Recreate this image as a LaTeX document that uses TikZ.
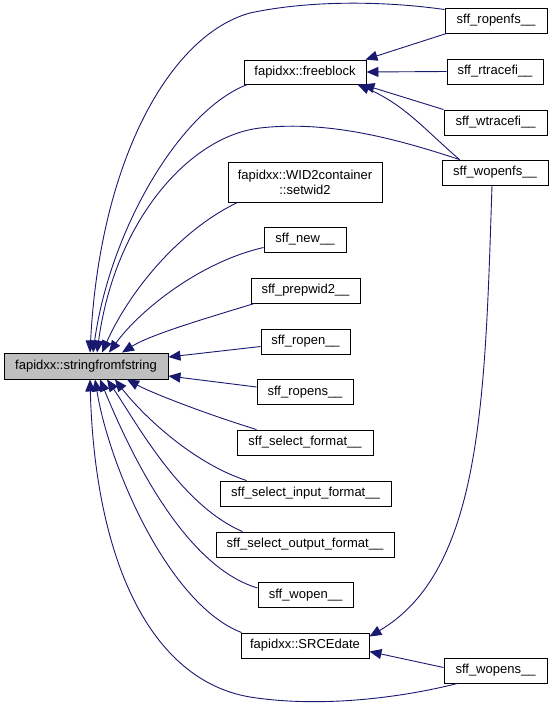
\documentclass[tikz,border=0pt]{standalone}
\usepackage{fontspec}
\setmainfont{Liberation Sans}
\usetikzlibrary{arrows.meta}
\definecolor{edgeblue}{HTML}{191970}
\definecolor{mainfill}{HTML}{BFBFBF}
\begin{document}
\begin{tikzpicture}[x=1pt,y=-1pt,
  box/.style={draw=black,line width=0.9pt,fill=white,minimum height=25pt,inner sep=0pt,font=\fontsize{13}{14.8}\selectfont,align=center},
  edge/.style={draw=edgeblue,line width=0.9pt,-{Triangle[length=12pt,width=10pt]}}]
\useasboundingbox (0,0) rectangle (555,707);
\node[box,fill=mainfill,minimum width=164pt,minimum height=26pt] (sfs) at (86,366) {fapidxx::stringfromfstring};
\node[box,minimum width=122pt,minimum height=24pt] (freeblock) at (305,72) {fapidxx::freeblock};
\node[box,minimum width=154pt,minimum height=40pt] (setwid2) at (305,182) {fapidxx::WID2container\\::setwid2};
\node[box,minimum width=82pt] (new) at (305,239.5) {sff\_new\_\_};
\node[box,minimum width=109pt] (prepwid2) at (305.5,290.5) {sff\_prepwid2\_\_};
\node[box,minimum width=89pt] (ropen) at (305.5,341.5) {sff\_ropen\_\_};
\node[box,minimum width=96pt] (ropens) at (305,392) {sff\_ropens\_\_};
\node[box,minimum width=136pt] (selfmt) at (305,442.5) {sff\_select\_format\_\_};
\node[box,minimum width=171pt] (selin) at (305.5,493.5) {sff\_select\_input\_format\_\_};
\node[box,minimum width=178pt] (selout) at (305,544.5) {sff\_select\_output\_format\_\_};
\node[box,minimum width=95pt] (wopen) at (305.5,595) {sff\_wopen\_\_};
\node[box,minimum width=128pt] (srce) at (305,645.5) {fapidxx::SRCEdate};
\node[box,minimum width=102pt] (ropenfs) at (496,20.5) {sff\_ropenfs\_\_};
\node[box,minimum width=96pt] (rtracefi) at (495,71.5) {sff\_rtracefi\_\_};
\node[box,minimum width=103pt] (wtracefi) at (495.5,122.5) {sff\_wtracefi\_\_};
\node[box,minimum width=106pt] (wopenfs) at (495,172.5) {sff\_wopenfs\_\_};
\node[box,minimum width=103pt] (wopens) at (495.5,670.5) {sff\_wopens\_\_};
% edges to freeblock
\draw[edge] ([xshift=2pt]ropenfs.south west) -- ([xshift=-1pt]freeblock.north east);
\draw[edge] (rtracefi.west) -- (freeblock.east);
\draw[edge] (wtracefi.north west) -- ([xshift=-4pt]freeblock.south east);
\draw[edge] ([xshift=18pt]wopenfs.north west) .. controls (425,130) and (405,105) .. ([xshift=-9pt]freeblock.south east);
% edges to SRCEdate
\draw[edge] ([xshift=-3pt]wopenfs.south) .. controls (485,400) and (482,570) .. ([yshift=-4pt]srce.north east);
\draw[edge] ([yshift=3pt]wopens.west) -- ([yshift=-6pt]srce.east);
% edges to stringfromfstring
\draw[edge] ([yshift=-2pt]ropenfs.north west) .. controls (400,3) and (320,-2) .. (250,13) .. controls (170,35) and (100,160) .. ([xshift=4pt]sfs.north);
\draw[edge] ([xshift=4pt]freeblock.south west) .. controls (180,110) and (110,230) .. ([xshift=7pt]sfs.north);
\draw[edge] ([xshift=18pt]wopenfs.north west) .. controls (400,140) and (330,120) .. (260,128) .. controls (190,136) and (115,220) .. ([xshift=11pt]sfs.north);
\draw[edge] ([xshift=10pt]setwid2.south west) .. controls (180,230) and (130,290) .. ([xshift=16pt]sfs.north);
\draw[edge] ([yshift=-8pt]new.west) .. controls (200,262) and (140,310) .. ([xshift=23pt]sfs.north);
\draw[edge] ([xshift=4pt]prepwid2.south west) .. controls (200,320) and (150,335) .. ([xshift=36pt]sfs.north);
\draw[edge] ([yshift=-5pt]ropen.west) -- ([yshift=9pt]sfs.east);
\draw[edge] ([yshift=5pt]ropens.west) -- ([yshift=-10pt]sfs.east);
\draw[edge] ([xshift=20pt]selfmt.north west) .. controls (200,412) and (150,392) .. ([xshift=41pt]sfs.south);
\draw[edge] ([xshift=27pt]selin.north west) .. controls (190,462) and (140,412) .. ([xshift=29pt]sfs.south);
\draw[edge] ([xshift=27pt]selout.north west) .. controls (180,505) and (135,420) .. ([xshift=21pt]sfs.south);
\draw[edge] ([yshift=7pt]wopen.west) .. controls (180,565) and (125,440) .. ([xshift=14pt]sfs.south);
\draw[edge] ([xshift=1pt]srce.north west) .. controls (170,605) and (110,470) .. ([xshift=9pt]sfs.south);
\draw[edge] ([xshift=14pt]wopens.south west) .. controls (400,698) and (320,708) .. (250,697) .. controls (150,680) and (95,560) .. ([xshift=4pt]sfs.south);
\end{tikzpicture}
\end{document}
